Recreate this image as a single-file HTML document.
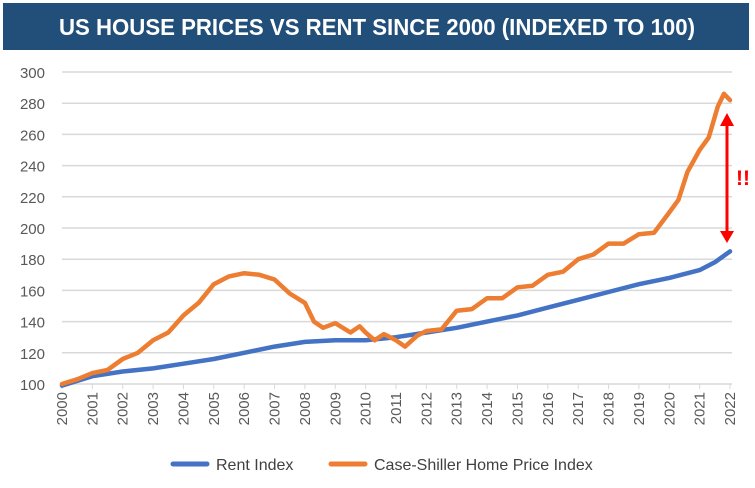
<!DOCTYPE html>
<html><head><meta charset="utf-8"><style>
body{margin:0;background:#fff;width:755px;height:483px;overflow:hidden;font-family:"Liberation Sans",sans-serif}
</style></head><body>
<svg width="755" height="483" xmlns="http://www.w3.org/2000/svg">
<rect x="3" y="3" width="746" height="47" fill="#214f7a"/>
<text x="377" y="35" text-anchor="middle" fill="#fff" font-size="23" font-weight="bold" textLength="636" lengthAdjust="spacingAndGlyphs">US HOUSE PRICES VS RENT SINCE 2000 (INDEXED TO 100)</text>
<g id="grid"></g><g id="yt"></g><g id="xt"></g><g id="series"></g>
<g>
<line x1="727" y1="125" x2="727" y2="232" stroke="#f00" stroke-width="3"/>
<polygon points="727,113 720,126 734,126" fill="#f00"/>
<polygon points="727,243 720,231 734,231" fill="#f00"/>
</g>
<text x="736" y="185" fill="#f00" font-size="21" font-weight="bold">!!</text>
<g>
<line x1="173" y1="464" x2="207" y2="464" stroke="#4472c4" stroke-width="5" stroke-linecap="round"/>
<text x="216" y="470" font-size="16" fill="#404040">Rent Index</text>
<line x1="331" y1="464" x2="365" y2="464" stroke="#ed7d31" stroke-width="5" stroke-linecap="round"/>
<text x="374" y="470" font-size="16" fill="#404040">Case-Shiller Home Price Index</text>
</g>
</svg>
<script>
const yTicks=[100,120,140,160,180,200,220,240,260,280,300];
const xYears=[2000,2001,2002,2003,2004,2005,2006,2007,2008,2009,2010,2011,2012,2013,2014,2015,2016,2017,2018,2019,2020,2021,2022];
const priceT=[2000,2000.5,2001,2001.5,2002,2002.5,2003,2003.5,2004,2004.5,2005,2005.5,2006,2006.5,2007,2007.5,2008,2008.3,2008.6,2009,2009.5,2009.8,2010,2010.3,2010.6,2011,2011.3,2011.7,2012,2012.5,2013,2013.5,2014,2014.5,2015,2015.5,2016,2016.5,2017,2017.5,2018,2018.5,2019,2019.5,2020,2020.3,2020.6,2021,2021.3,2021.6,2021.8,2022];
const priceV=[100,103,107,109,116,120,128,133,144,152,164,169,171,170,167,158,152,140,136,139,133,137,133,128,132,128,124,131,134,135,147,148,155,155,162,163,170,172,180,183,190,190,196,197,210,218,236,250,258,278,286,282];
const rentT=[2000,2001,2002,2003,2004,2005,2006,2007,2008,2009,2010,2011,2012,2013,2014,2015,2016,2017,2018,2019,2020,2021,2021.5,2022];
const rentV=[99,105,108,110,113,116,120,124,127,128,128,130,133,136,140,144,149,154,159,164,168,173,178,185];
const X0=62,X1=730,Y0=384,Y1=72;
const xs=t=>X0+(t-2000)/22*(X1-X0);
const ys=v=>Y0-(v-100)/200*(Y0-Y1);
const NS="http://www.w3.org/2000/svg";
function mk(tag,parent,attrs){const e=document.createElementNS(NS,tag);for(const k in attrs)e.setAttribute(k,attrs[k]);document.getElementById(parent).appendChild(e);return e;}
yTicks.forEach(v=>{
 const l=mk('line','grid',{x1:X0,x2:732,y1:ys(v),y2:ys(v),stroke:'#d9d9d9','stroke-width':1.5});
 
 
 const t=mk('text','yt',{x:45,y:ys(v)+6,'text-anchor':'end','font-size':15,fill:'#595959'});
 t.textContent=v;
 
 
});
xYears.forEach(y=>{
 const x=xs(y);
 const tk=mk('line','xt',{x1:x,x2:x,y1:Y0,y2:Y0+5,stroke:'#d9d9d9'});
 
 
 const t=mk('text','xt',{x:0,y:0,transform:`translate(${x+5},${Y0+8}) rotate(-90)`,'text-anchor':'end','font-size':15,fill:'#595959'});
 t.textContent=y;
 
 
});
function path(T,V){return T.map((t,i)=>(i?'L':'M')+xs(t).toFixed(1)+','+ys(V[i]).toFixed(1)).join('');}
const r=mk('path','series',{d:path(rentT,rentV),fill:'none',stroke:'#4472c4','stroke-width':4.5,'stroke-linejoin':'round','stroke-linecap':'round'});


const p=mk('path','series',{d:path(priceT,priceV),fill:'none',stroke:'#ed7d31','stroke-width':4.5,'stroke-linejoin':'round','stroke-linecap':'round'});


</script>
</body></html>
